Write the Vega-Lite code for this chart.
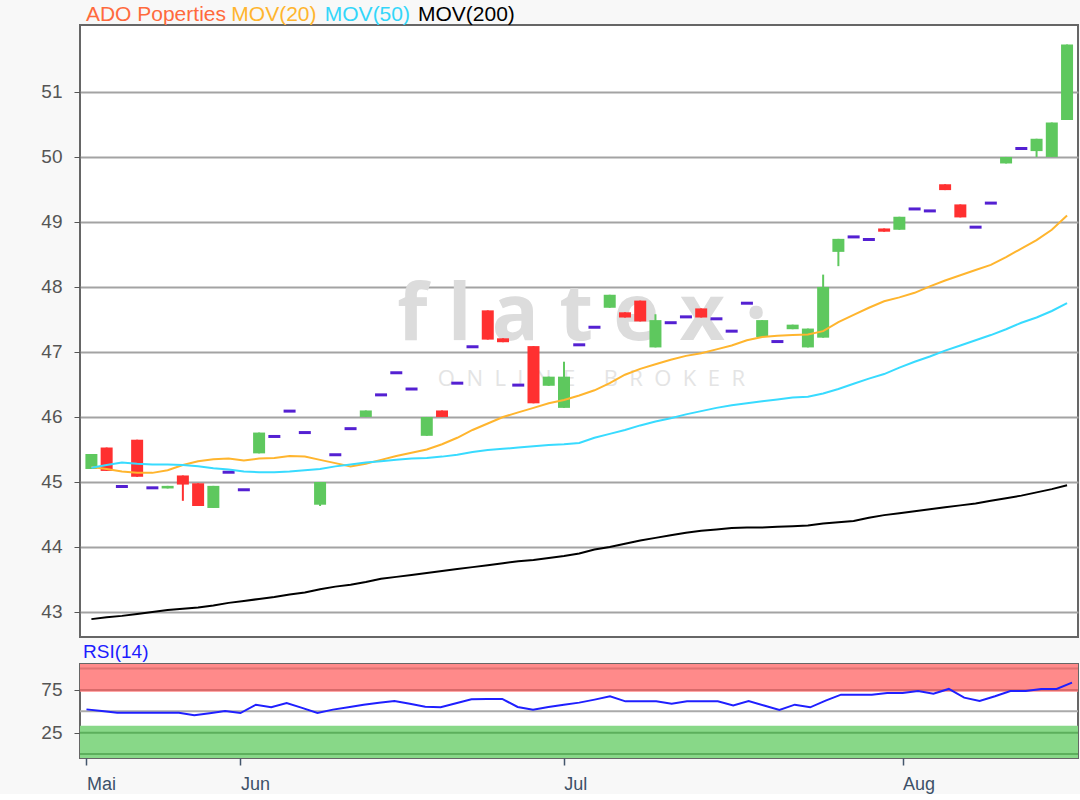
{
  "$schema": "https://vega.github.io/schema/vega-lite/v6.json",
  "background": "#f8f8f8",
  "padding": {"left": 39, "top": 2, "right": 1, "bottom": 0},
  "config": {
    "font": "Liberation Sans",
    "view": {"stroke": "#666666", "strokeWidth": 2, "fill": "#ffffff"}
  },
  "spacing": 4,
  "datasets": {
    "d": [
      {"i":0,"d":"2018-05-18","o":45.20,"h":45.43,"l":45.20,"c":45.43,"m20":45.23,"m50":45.22,"m200":42.89,"rsi":52.3},
      {"i":1,"d":"2018-05-21","o":45.53,"h":45.53,"l":45.17,"c":45.17,"m20":45.20,"m50":45.26,"m200":42.92,"rsi":50.4},
      {"i":2,"d":"2018-05-22","o":44.93,"h":44.93,"l":44.93,"c":44.93,"m20":45.16,"m50":45.30,"m200":42.94,"rsi":48.4},
      {"i":3,"d":"2018-05-23","o":45.65,"h":45.65,"l":45.08,"c":45.08,"m20":45.14,"m50":45.28,"m200":42.97,"rsi":48.4},
      {"i":4,"d":"2018-05-24","o":44.91,"h":44.91,"l":44.91,"c":44.91,"m20":45.14,"m50":45.27,"m200":43.00,"rsi":48.4},
      {"i":5,"d":"2018-05-25","o":44.90,"h":44.94,"l":44.90,"c":44.94,"m20":45.18,"m50":45.27,"m200":43.03,"rsi":48.4},
      {"i":6,"d":"2018-05-28","o":45.10,"h":45.10,"l":44.71,"c":44.96,"m20":45.26,"m50":45.26,"m200":43.05,"rsi":48.4},
      {"i":7,"d":"2018-05-29","o":44.98,"h":44.98,"l":44.63,"c":44.63,"m20":45.32,"m50":45.24,"m200":43.07,"rsi":45.3},
      {"i":8,"d":"2018-05-30","o":44.60,"h":44.94,"l":44.60,"c":44.94,"m20":45.35,"m50":45.21,"m200":43.10,"rsi":47.8},
      {"i":9,"d":"2018-05-31","o":45.15,"h":45.15,"l":45.15,"c":45.15,"m20":45.36,"m50":45.19,"m200":43.14,"rsi":50.4},
      {"i":10,"d":"2018-06-01","o":44.88,"h":44.88,"l":44.88,"c":44.88,"m20":45.33,"m50":45.16,"m200":43.17,"rsi":48.0},
      {"i":11,"d":"2018-06-04","o":45.44,"h":45.76,"l":45.44,"c":45.76,"m20":45.36,"m50":45.15,"m200":43.20,"rsi":57.8},
      {"i":12,"d":"2018-06-05","o":45.70,"h":45.70,"l":45.70,"c":45.70,"m20":45.37,"m50":45.15,"m200":43.23,"rsi":54.7},
      {"i":13,"d":"2018-06-06","o":46.09,"h":46.09,"l":46.09,"c":46.09,"m20":45.40,"m50":45.16,"m200":43.27,"rsi":59.8},
      {"i":14,"d":"2018-06-07","o":45.76,"h":45.76,"l":45.76,"c":45.76,"m20":45.39,"m50":45.18,"m200":43.30,"rsi":54.1},
      {"i":15,"d":"2018-06-08","o":44.65,"h":45.00,"l":44.63,"c":45.00,"m20":45.34,"m50":45.20,"m200":43.35,"rsi":48.0},
      {"i":16,"d":"2018-06-11","o":45.42,"h":45.42,"l":45.42,"c":45.42,"m20":45.29,"m50":45.24,"m200":43.39,"rsi":52.0},
      {"i":17,"d":"2018-06-12","o":45.82,"h":45.82,"l":45.82,"c":45.82,"m20":45.24,"m50":45.27,"m200":43.42,"rsi":54.7},
      {"i":18,"d":"2018-06-13","o":46.00,"h":46.10,"l":46.00,"c":46.10,"m20":45.28,"m50":45.30,"m200":43.46,"rsi":57.8},
      {"i":19,"d":"2018-06-14","o":46.34,"h":46.34,"l":46.34,"c":46.34,"m20":45.34,"m50":45.32,"m200":43.51,"rsi":60.0},
      {"i":20,"d":"2018-06-15","o":46.68,"h":46.68,"l":46.68,"c":46.68,"m20":45.40,"m50":45.34,"m200":43.54,"rsi":62.1},
      {"i":21,"d":"2018-06-18","o":46.43,"h":46.43,"l":46.43,"c":46.43,"m20":45.45,"m50":45.36,"m200":43.57,"rsi":59.0},
      {"i":22,"d":"2018-06-19","o":45.71,"h":46.00,"l":45.71,"c":46.00,"m20":45.50,"m50":45.37,"m200":43.60,"rsi":55.5},
      {"i":23,"d":"2018-06-20","o":46.10,"h":46.10,"l":46.00,"c":46.00,"m20":45.58,"m50":45.39,"m200":43.63,"rsi":54.7},
      {"i":24,"d":"2018-06-21","o":46.52,"h":46.52,"l":46.52,"c":46.52,"m20":45.68,"m50":45.42,"m200":43.66,"rsi":59.4},
      {"i":25,"d":"2018-06-22","o":47.08,"h":47.08,"l":47.08,"c":47.08,"m20":45.80,"m50":45.46,"m200":43.69,"rsi":64.1},
      {"i":26,"d":"2018-06-25","o":47.64,"h":47.64,"l":47.19,"c":47.19,"m20":45.90,"m50":45.49,"m200":43.72,"rsi":64.5},
      {"i":27,"d":"2018-06-26","o":47.21,"h":47.21,"l":47.15,"c":47.15,"m20":46.00,"m50":45.51,"m200":43.75,"rsi":64.5},
      {"i":28,"d":"2018-06-27","o":46.49,"h":46.49,"l":46.49,"c":46.49,"m20":46.07,"m50":45.53,"m200":43.78,"rsi":55.1},
      {"i":29,"d":"2018-06-28","o":47.09,"h":47.09,"l":46.21,"c":46.21,"m20":46.14,"m50":45.55,"m200":43.80,"rsi":52.0},
      {"i":30,"d":"2018-06-29","o":46.48,"h":46.62,"l":46.48,"c":46.62,"m20":46.21,"m50":45.57,"m200":43.83,"rsi":55.1},
      {"i":31,"d":"2018-07-02","o":46.14,"h":46.85,"l":46.14,"c":46.62,"m20":46.26,"m50":45.58,"m200":43.86,"rsi":57.8},
      {"i":32,"d":"2018-07-03","o":47.11,"h":47.11,"l":47.11,"c":47.11,"m20":46.33,"m50":45.60,"m200":43.90,"rsi":60.2},
      {"i":33,"d":"2018-07-04","o":47.38,"h":47.38,"l":47.38,"c":47.38,"m20":46.41,"m50":45.68,"m200":43.96,"rsi":63.7},
      {"i":34,"d":"2018-07-05","o":47.68,"h":47.88,"l":47.68,"c":47.88,"m20":46.52,"m50":45.74,"m200":44.00,"rsi":67.6},
      {"i":35,"d":"2018-07-06","o":47.61,"h":47.61,"l":47.53,"c":47.53,"m20":46.65,"m50":45.80,"m200":44.05,"rsi":61.7},
      {"i":36,"d":"2018-07-09","o":47.79,"h":47.79,"l":47.47,"c":47.47,"m20":46.74,"m50":45.87,"m200":44.10,"rsi":61.7},
      {"i":37,"d":"2018-07-10","o":47.07,"h":47.58,"l":47.07,"c":47.49,"m20":46.81,"m50":45.93,"m200":44.14,"rsi":61.7},
      {"i":38,"d":"2018-07-11","o":47.45,"h":47.45,"l":47.45,"c":47.45,"m20":46.88,"m50":45.98,"m200":44.18,"rsi":59.0},
      {"i":39,"d":"2018-07-12","o":47.54,"h":47.54,"l":47.54,"c":47.54,"m20":46.94,"m50":46.04,"m200":44.22,"rsi":61.7},
      {"i":40,"d":"2018-07-13","o":47.67,"h":47.67,"l":47.53,"c":47.53,"m20":46.98,"m50":46.09,"m200":44.25,"rsi":61.7},
      {"i":41,"d":"2018-07-16","o":47.51,"h":47.51,"l":47.51,"c":47.51,"m20":47.04,"m50":46.14,"m200":44.27,"rsi":61.7},
      {"i":42,"d":"2018-07-17","o":47.32,"h":47.32,"l":47.32,"c":47.32,"m20":47.10,"m50":46.18,"m200":44.29,"rsi":57.0},
      {"i":43,"d":"2018-07-18","o":47.75,"h":47.75,"l":47.75,"c":47.75,"m20":47.18,"m50":46.21,"m200":44.30,"rsi":62.1},
      {"i":44,"d":"2018-07-19","o":47.23,"h":47.49,"l":47.23,"c":47.49,"m20":47.23,"m50":46.24,"m200":44.30,"rsi":56.8},
      {"i":45,"d":"2018-07-20","o":47.16,"h":47.16,"l":47.16,"c":47.16,"m20":47.25,"m50":46.27,"m200":44.31,"rsi":51.6},
      {"i":46,"d":"2018-07-23","o":47.35,"h":47.42,"l":47.35,"c":47.42,"m20":47.26,"m50":46.30,"m200":44.32,"rsi":57.8},
      {"i":47,"d":"2018-07-24","o":47.07,"h":47.36,"l":47.07,"c":47.36,"m20":47.27,"m50":46.31,"m200":44.33,"rsi":54.7},
      {"i":48,"d":"2018-07-25","o":47.22,"h":48.19,"l":47.22,"c":48.00,"m20":47.32,"m50":46.36,"m200":44.36,"rsi":62.5},
      {"i":49,"d":"2018-07-26","o":48.54,"h":48.74,"l":48.32,"c":48.74,"m20":47.46,"m50":46.43,"m200":44.38,"rsi":69.5},
      {"i":50,"d":"2018-07-27","o":48.77,"h":48.77,"l":48.77,"c":48.77,"m20":47.57,"m50":46.51,"m200":44.40,"rsi":69.5},
      {"i":51,"d":"2018-07-30","o":48.73,"h":48.73,"l":48.73,"c":48.73,"m20":47.68,"m50":46.59,"m200":44.45,"rsi":69.5},
      {"i":52,"d":"2018-07-31","o":48.90,"h":48.90,"l":48.85,"c":48.85,"m20":47.78,"m50":46.66,"m200":44.49,"rsi":71.5},
      {"i":53,"d":"2018-08-01","o":48.88,"h":49.08,"l":48.88,"c":49.08,"m20":47.84,"m50":46.76,"m200":44.52,"rsi":71.5},
      {"i":54,"d":"2018-08-02","o":49.20,"h":49.20,"l":49.20,"c":49.20,"m20":47.91,"m50":46.85,"m200":44.55,"rsi":73.8},
      {"i":55,"d":"2018-08-03","o":49.17,"h":49.17,"l":49.17,"c":49.17,"m20":48.01,"m50":46.93,"m200":44.58,"rsi":70.7},
      {"i":56,"d":"2018-08-06","o":49.58,"h":49.58,"l":49.49,"c":49.49,"m20":48.10,"m50":47.02,"m200":44.61,"rsi":76.2},
      {"i":57,"d":"2018-08-07","o":49.27,"h":49.27,"l":49.07,"c":49.07,"m20":48.18,"m50":47.10,"m200":44.64,"rsi":66.0},
      {"i":58,"d":"2018-08-08","o":48.92,"h":48.92,"l":48.92,"c":48.92,"m20":48.26,"m50":47.18,"m200":44.67,"rsi":62.1},
      {"i":59,"d":"2018-08-09","o":49.29,"h":49.29,"l":49.29,"c":49.29,"m20":48.34,"m50":47.26,"m200":44.71,"rsi":67.6},
      {"i":60,"d":"2018-08-10","o":49.90,"h":50.00,"l":49.90,"c":50.00,"m20":48.46,"m50":47.35,"m200":44.75,"rsi":73.8},
      {"i":61,"d":"2018-08-13","o":50.13,"h":50.13,"l":50.13,"c":50.13,"m20":48.59,"m50":47.45,"m200":44.79,"rsi":73.8},
      {"i":62,"d":"2018-08-14","o":50.09,"h":50.28,"l":50.00,"c":50.28,"m20":48.72,"m50":47.53,"m200":44.84,"rsi":76.2},
      {"i":63,"d":"2018-08-15","o":50.00,"h":50.53,"l":50.00,"c":50.53,"m20":48.88,"m50":47.63,"m200":44.89,"rsi":76.2},
      {"i":64,"d":"2018-08-16","o":50.57,"h":51.73,"l":50.57,"c":51.73,"m20":49.10,"m50":47.75,"m200":44.95,"rsi":83.6}
    ]
  },
  "vconcat": [
    {
      "width": 998,
      "height": 612,
      "layer": [
        {
          "data": {"values": [{}]},
          "mark": {"type": "text", "text": "f l a t e x ·", "fontSize": 78, "fontWeight": "bold", "font": "Open Sans", "color": "#dcdcdc", "baseline": "alphabetic", "align": "center"},
          "encoding": {
            "x": {"datum": 32.2, "type": "quantitative", "scale": {"domain": [-0.42, 64.39], "nice": false, "zero": false}, "axis": null},
            "y": {"datum": 47.18, "type": "quantitative", "scale": {"domain": [42.615, 52.03], "nice": false, "zero": false},
              "axis": {"values": [43, 44, 45, 46, 47, 48, 49, 50, 51], "format": "d", "grid": true, "gridColor": "#a3a3a3", "gridWidth": 2, "domain": false, "tickColor": "#555555", "tickSize": 6, "labelColor": "#555555", "labelFontSize": 19, "labelPadding": 12, "title": null}}
          }
        },
        {
          "data": {"values": [{}]},
          "mark": {"type": "text", "text": "O\u00a0\u00a0N\u00a0\u00a0L\u00a0\u00a0I\u00a0\u00a0N\u00a0\u00a0E\u00a0\u00a0\u00a0\u00a0\u00a0B\u00a0\u00a0R\u00a0\u00a0O\u00a0\u00a0K\u00a0\u00a0E\u00a0\u00a0R", "fontSize": 22, "font": "Open Sans", "color": "#e4e4e4", "baseline": "alphabetic", "align": "center"},
          "encoding": {
            "x": {"datum": 32.8, "type": "quantitative"},
            "y": {"datum": 46.48, "type": "quantitative"}
          }
        },
        {
          "data": {"values": [{}]},
          "mark": {"type": "text", "text": "ADO Poperties", "fontSize": 21, "color": "#ff6a3d", "baseline": "middle", "align": "left"},
          "encoding": {"x": {"datum": -0.36, "type": "quantitative"}, "y": {"datum": 52.185, "type": "quantitative"}}
        },
        {
          "data": {"values": [{}]},
          "mark": {"type": "text", "text": "MOV(20)", "fontSize": 21, "color": "#ffb52e", "baseline": "middle", "align": "left"},
          "encoding": {"x": {"datum": 9.18, "type": "quantitative"}, "y": {"datum": 52.185, "type": "quantitative"}}
        },
        {
          "data": {"values": [{}]},
          "mark": {"type": "text", "text": "MOV(50)", "fontSize": 21, "color": "#33d6fa", "baseline": "middle", "align": "left"},
          "encoding": {"x": {"datum": 15.31, "type": "quantitative"}, "y": {"datum": 52.185, "type": "quantitative"}}
        },
        {
          "data": {"values": [{}]},
          "mark": {"type": "text", "text": "MOV(200)", "fontSize": 21, "color": "#000000", "baseline": "middle", "align": "left"},
          "encoding": {"x": {"datum": 21.42, "type": "quantitative"}, "y": {"datum": 52.185, "type": "quantitative"}}
        },
        {
          "data": {"name": "d"},
          "transform": [{"filter": "datum.o != datum.c"}],
          "mark": {"type": "rule", "strokeWidth": 2},
          "encoding": {
            "x": {"field": "i", "type": "quantitative"},
            "y": {"field": "l", "type": "quantitative"},
            "y2": {"field": "h"},
            "color": {"condition": {"test": "datum.c > datum.o", "value": "#5ec85e"}, "value": "#ff3030"}
          }
        },
        {
          "data": {"name": "d"},
          "transform": [{"filter": "datum.o != datum.c"}],
          "mark": {"type": "bar", "size": 12},
          "encoding": {
            "x": {"field": "i", "type": "quantitative"},
            "y": {"field": "o", "type": "quantitative"},
            "y2": {"field": "c"},
            "color": {"condition": {"test": "datum.c > datum.o", "value": "#5ec85e"}, "value": "#ff3030"}
          }
        },
        {
          "data": {"name": "d"},
          "transform": [{"filter": "datum.o == datum.c"}],
          "mark": {"type": "tick", "orient": "horizontal", "size": 12, "thickness": 3, "color": "#5420d2", "opacity": 1},
          "encoding": {
            "x": {"field": "i", "type": "quantitative"},
            "y": {"field": "o", "type": "quantitative"}
          }
        },
        {
          "data": {"name": "d"},
          "transform": [{"fold": ["m20", "m50", "m200"], "as": ["k", "v"]}],
          "mark": {"type": "line", "strokeWidth": 2},
          "encoding": {
            "x": {"field": "i", "type": "quantitative"},
            "y": {"field": "v", "type": "quantitative"},
            "color": {
              "field": "k", "type": "nominal",
              "scale": {"domain": ["m20", "m50", "m200"], "range": ["#ffb52e", "#38dbff", "#000000"]},
              "legend": null
            }
          }
        }
      ]
    },
    {
      "width": 998,
      "height": 94,
      "title": {"text": "RSI(14)", "anchor": "start", "frame": "group", "color": "#1c1cff", "fontSize": 19, "fontWeight": "normal", "font": "Liberation Sans", "offset": 2, "dx": 3},
      "layer": [
        {
          "data": {"values": [{}]},
          "mark": {"type": "rect", "color": "#ff8a8a"},
          "encoding": {
            "x": {"datum": -0.42, "type": "quantitative", "scale": {"domain": [-0.42, 64.39], "nice": false, "zero": false},
              "axis": {"values": [0, 10, 31, 53], "labelExpr": "datum.value == 0 ? 'Mai' : datum.value == 10 ? 'Jun' : datum.value == 31 ? 'Jul' : 'Aug'", "grid": false, "domain": false, "tickColor": "#44566c", "tickSize": 7, "tickWidth": 1.5, "labelColor": "#3d5168", "labelFontSize": 18, "labelAlign": "left", "labelPadding": 10, "labelFlush": false, "labelOverlap": false, "title": null}},
            "x2": {"datum": 64.39},
            "y": {"datum": 73, "type": "quantitative", "scale": {"domain": [-4.6, 105.4], "nice": false, "zero": false},
              "axis": {"values": [25, 75], "grid": false, "domain": false, "tickColor": "#555555", "tickSize": 6, "labelColor": "#555555", "labelFontSize": 19, "labelPadding": 12, "title": null}},
            "y2": {"datum": 105.4}
          }
        },
        {
          "data": {"values": [{}]},
          "mark": {"type": "rect", "color": "#88d888"},
          "encoding": {
            "x": {"datum": -0.42, "type": "quantitative"},
            "x2": {"datum": 64.39},
            "y": {"datum": -4.6, "type": "quantitative"},
            "y2": {"datum": 33}
          }
        },
        {
          "data": {"values": [{}]},
          "mark": {"type": "rule", "color": "#d96a6a", "strokeWidth": 2},
          "encoding": {"y": {"datum": 75, "type": "quantitative"}}
        },
        {
          "data": {"values": [{}]},
          "mark": {"type": "rule", "color": "#e07272", "strokeWidth": 2},
          "encoding": {"y": {"datum": 100, "type": "quantitative"}}
        },
        {
          "data": {"values": [{}]},
          "mark": {"type": "rule", "color": "#5caf5c", "strokeWidth": 2},
          "encoding": {"y": {"datum": 25, "type": "quantitative"}}
        },
        {
          "data": {"values": [{}]},
          "mark": {"type": "rule", "color": "#5caf5c", "strokeWidth": 2},
          "encoding": {"y": {"datum": 0, "type": "quantitative"}}
        },
        {
          "data": {"values": [{}]},
          "mark": {"type": "rule", "color": "#aaaaaa", "strokeWidth": 2},
          "encoding": {"y": {"datum": 50, "type": "quantitative"}}
        },
        {
          "data": {"name": "d"},
          "mark": {"type": "line", "color": "#1f1fff", "strokeWidth": 2},
          "encoding": {
            "x": {"field": "i", "type": "quantitative"},
            "y": {"field": "rsi", "type": "quantitative"}
          }
        }
      ]
    }
  ]
}
